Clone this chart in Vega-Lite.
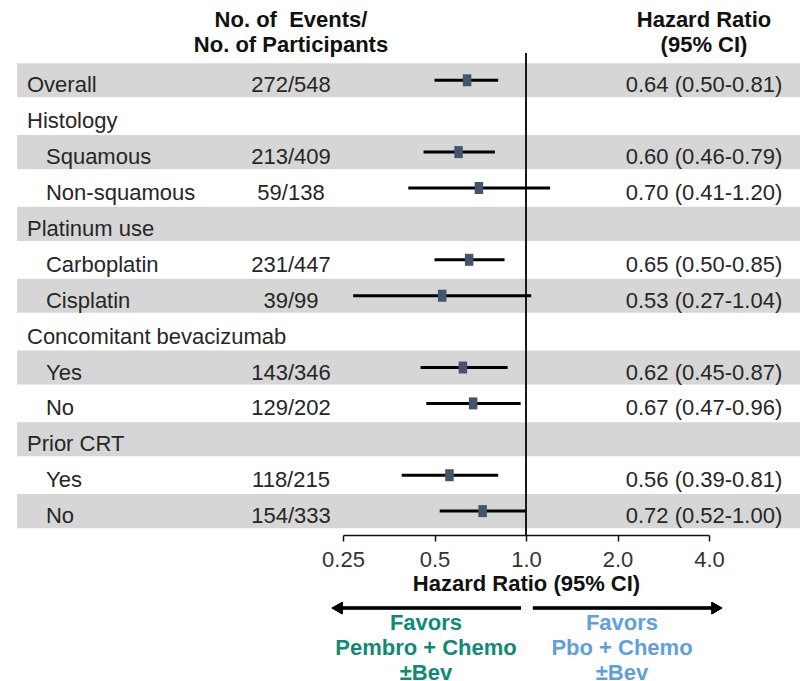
{
  "$schema": "https://vega.github.io/schema/vega-lite/v6.json",
  "autosize": {"type": "pad"},
  "padding": {"left": 0, "top": 0, "right": 0, "bottom": 4},
  "bounds": "flush",
  "spacing": 8,
  "background": "white",
  "config": {
    "view": {"stroke": null},
    "font": "Liberation Sans",
    "text": {"font": "Liberation Sans", "fontSize": 22, "color": "#262626"}
  },
  "datasets": {
    "rows": [
      {"id": "overall", "label": "Overall", "level": "group", "events": "272/548", "hr": 0.64, "lo": 0.50, "hi": 0.81, "hrText": "0.64 (0.50-0.81)"},
      {"id": "histology", "label": "Histology", "level": "group", "events": "", "hr": null, "lo": null, "hi": null, "hrText": ""},
      {"id": "squamous", "label": "Squamous", "level": "sub", "events": "213/409", "hr": 0.60, "lo": 0.46, "hi": 0.79, "hrText": "0.60 (0.46-0.79)"},
      {"id": "nonsquamous", "label": "Non-squamous", "level": "sub", "events": "59/138", "hr": 0.70, "lo": 0.41, "hi": 1.20, "hrText": "0.70 (0.41-1.20)"},
      {"id": "platinum", "label": "Platinum use", "level": "group", "events": "", "hr": null, "lo": null, "hi": null, "hrText": ""},
      {"id": "carboplatin", "label": "Carboplatin", "level": "sub", "events": "231/447", "hr": 0.65, "lo": 0.50, "hi": 0.85, "hrText": "0.65 (0.50-0.85)"},
      {"id": "cisplatin", "label": "Cisplatin", "level": "sub", "events": "39/99", "hr": 0.53, "lo": 0.27, "hi": 1.04, "hrText": "0.53 (0.27-1.04)"},
      {"id": "bev", "label": "Concomitant bevacizumab", "level": "group", "events": "", "hr": null, "lo": null, "hi": null, "hrText": ""},
      {"id": "bevYes", "label": "Yes", "level": "sub", "events": "143/346", "hr": 0.62, "lo": 0.45, "hi": 0.87, "hrText": "0.62 (0.45-0.87)"},
      {"id": "bevNo", "label": "No", "level": "sub", "events": "129/202", "hr": 0.67, "lo": 0.47, "hi": 0.96, "hrText": "0.67 (0.47-0.96)"},
      {"id": "crt", "label": "Prior CRT", "level": "group", "events": "", "hr": null, "lo": null, "hi": null, "hrText": ""},
      {"id": "crtYes", "label": "Yes", "level": "sub", "events": "118/215", "hr": 0.56, "lo": 0.39, "hi": 0.81, "hrText": "0.56 (0.39-0.81)"},
      {"id": "crtNo", "label": "No", "level": "sub", "events": "154/333", "hr": 0.72, "lo": 0.52, "hi": 1.00, "hrText": "0.72 (0.52-1.00)"}
    ],
    "favors": [
      {"side": "pembro", "line": 1, "text": "Favors"},
      {"side": "pembro", "line": 2, "text": "Pembro + Chemo"},
      {"side": "pembro", "line": 3, "text": "±Bev"},
      {"side": "pbo", "line": 1, "text": "Favors"},
      {"side": "pbo", "line": 2, "text": "Pbo + Chemo"},
      {"side": "pbo", "line": 3, "text": "±Bev"}
    ]
  },
  "vconcat": [
    {
      "width": 366,
      "height": 45,
      "data": {"values": [{"col": "events"}]},
      "layer": [
        {
          "mark": {"type": "rect", "opacity": 0},
          "encoding": {
            "x": {"datum": 0.01873, "type": "quantitative", "scale": {"type": "log", "domain": [0.25, 4], "nice": false}, "axis": null},
            "x2": {"datum": 8.03}
          }
        },
        {
          "mark": {"type": "text", "text": "No. of\u00a0 Events/\nNo. of Participants", "lineBreak": "\n", "lineHeight": 25, "fontWeight": "bold", "fontSize": 22, "color": "#111111", "align": "center", "baseline": "middle", "dy": -3},
          "encoding": {
            "x": {"datum": 0.1686, "type": "quantitative"}
          }
        },
        {
          "mark": {"type": "text", "text": "Hazard Ratio\n(95% CI)", "lineBreak": "\n", "lineHeight": 25, "fontWeight": "bold", "fontSize": 22, "color": "#111111", "align": "center", "baseline": "middle", "dy": -3},
          "encoding": {
            "x": {"datum": 3.851, "type": "quantitative"}
          }
        }
      ]
    },
    {
      "width": 366,
      "height": 482,
      "data": {"name": "rows"},
      "layer": [
        {
          "transform": [
            {"window": [{"op": "row_number", "as": "rowNum"}]},
            {"filter": "datum.rowNum % 2 == 1"}
          ],
          "mark": {"type": "rect", "color": "#d6d6d6"},
          "encoding": {
            "y": {
              "field": "id", "type": "nominal", "axis": null,
              "scale": {
                "domain": ["overall", "histology", "squamous", "nonsquamous", "platinum", "carboplatin", "cisplatin", "bev", "bevYes", "bevNo", "crt", "crtYes", "crtNo"],
                "paddingInner": 0.05, "paddingOuter": 0.2375, "align": 0.6
              }
            },
            "x": {"datum": 0.02116, "type": "quantitative"},
            "x2": {"datum": 8.03}
          }
        },
        {
          "mark": {"type": "rule", "color": "#1a1a1a", "strokeWidth": 1.5},
          "encoding": {
            "x": {"datum": 1, "type": "quantitative"}
          }
        },
        {
          "transform": [{"filter": "isValid(datum.hr)"}],
          "mark": {"type": "rule", "color": "#000000", "strokeWidth": 3},
          "encoding": {
            "y": {"field": "id", "type": "nominal"},
            "x": {
              "field": "lo", "type": "quantitative",
              "scale": {"type": "log", "domain": [0.25, 4], "nice": false},
              "axis": {
                "values": [0.25, 0.5, 1, 2, 4],
                "labelExpr": "datum.value == 0.25 ? '0.25' : datum.value == 0.5 ? '0.5' : format(datum.value, '.1f')",
                "title": "Hazard Ratio (95% CI)",
                "titleFont": "Liberation Sans", "titleFontSize": 22, "titleFontWeight": "bold", "titleColor": "#111111", "titlePadding": 3,
                "labelFont": "Liberation Sans", "labelFontSize": 22, "labelColor": "#333333", "labelPadding": 8,
                "labelFlush": false, "labelOverlap": false,
                "domainColor": "#111111", "domainWidth": 1.5,
                "tickColor": "#111111", "tickWidth": 1.5, "tickSize": 6,
                "grid": false
              }
            },
            "x2": {"field": "hi"}
          }
        },
        {
          "transform": [{"filter": "isValid(datum.hr)"}],
          "mark": {"type": "tick", "color": "#44546a", "thickness": 8.5, "size": 12, "opacity": 1},
          "encoding": {
            "y": {"field": "id", "type": "nominal"},
            "x": {"field": "hr", "type": "quantitative"}
          }
        },
        {
          "transform": [{"filter": "datum.level == 'group'"}],
          "mark": {"type": "text", "align": "left", "baseline": "middle", "dy": 5},
          "encoding": {
            "y": {"field": "id", "type": "nominal"},
            "x": {"datum": 0.02282, "type": "quantitative"},
            "text": {"field": "label", "type": "nominal"}
          }
        },
        {
          "transform": [{"filter": "datum.level == 'sub'"}],
          "mark": {"type": "text", "align": "left", "baseline": "middle", "dy": 5},
          "encoding": {
            "y": {"field": "id", "type": "nominal"},
            "x": {"datum": 0.02635, "type": "quantitative"},
            "text": {"field": "label", "type": "nominal"}
          }
        },
        {
          "mark": {"type": "text", "align": "center", "baseline": "middle", "dy": 5},
          "encoding": {
            "y": {"field": "id", "type": "nominal"},
            "x": {"datum": 0.1686, "type": "quantitative"},
            "text": {"field": "events", "type": "nominal"}
          }
        },
        {
          "mark": {"type": "text", "align": "center", "baseline": "middle", "dy": 5},
          "encoding": {
            "y": {"field": "id", "type": "nominal"},
            "x": {"datum": 3.851, "type": "quantitative"},
            "text": {"field": "hrText", "type": "nominal"}
          }
        }
      ]
    },
    {
      "width": 366,
      "height": 134,
      "data": {"name": "favors"},
      "layer": [
        {
          "mark": {"type": "rect", "opacity": 0},
          "encoding": {
            "x": {"datum": 0.01873, "type": "quantitative", "scale": {"type": "log", "domain": [0.25, 4], "nice": false}, "axis": null},
            "x2": {"datum": 8.03}
          }
        },
        {
          "mark": {"type": "rule", "color": "#000000", "strokeWidth": 2.5},
          "encoding": {
            "x": {"datum": 0.2334, "type": "quantitative"},
            "x2": {"datum": 0.963},
            "y": {"datum": 0.4, "type": "quantitative", "scale": {"domain": [-2.2, 3.15], "reverse": true, "nice": false, "zero": false}, "axis": null}
          }
        },
        {
          "mark": {"type": "rule", "color": "#000000", "strokeWidth": 2.5},
          "encoding": {
            "x": {"datum": 1.054, "type": "quantitative"},
            "x2": {"datum": 4.35},
            "y": {"datum": 0.4, "type": "quantitative"}
          }
        },
        {
          "mark": {"type": "point", "shape": "triangle-left", "filled": true, "color": "#000000", "size": 150, "opacity": 1},
          "encoding": {
            "x": {"datum": 0.2389, "type": "quantitative"},
            "y": {"datum": 0.4, "type": "quantitative"}
          }
        },
        {
          "mark": {"type": "point", "shape": "triangle-right", "filled": true, "color": "#000000", "size": 150, "opacity": 1},
          "encoding": {
            "x": {"datum": 4.25, "type": "quantitative"},
            "y": {"datum": 0.4, "type": "quantitative"}
          }
        },
        {
          "transform": [{"filter": "datum.side == 'pembro'"}],
          "mark": {"type": "text", "align": "center", "baseline": "middle", "fontWeight": "bold", "fontSize": 22, "color": "#0f8a76"},
          "encoding": {
            "x": {"datum": 0.4688, "type": "quantitative"},
            "y": {"field": "line", "type": "quantitative"},
            "text": {"field": "text", "type": "nominal"}
          }
        },
        {
          "transform": [{"filter": "datum.side == 'pbo'"}],
          "mark": {"type": "text", "align": "center", "baseline": "middle", "fontWeight": "bold", "fontSize": 22, "color": "#5f9fdc"},
          "encoding": {
            "x": {"datum": 2.069, "type": "quantitative"},
            "y": {"field": "line", "type": "quantitative"},
            "text": {"field": "text", "type": "nominal"}
          }
        }
      ]
    }
  ]
}
